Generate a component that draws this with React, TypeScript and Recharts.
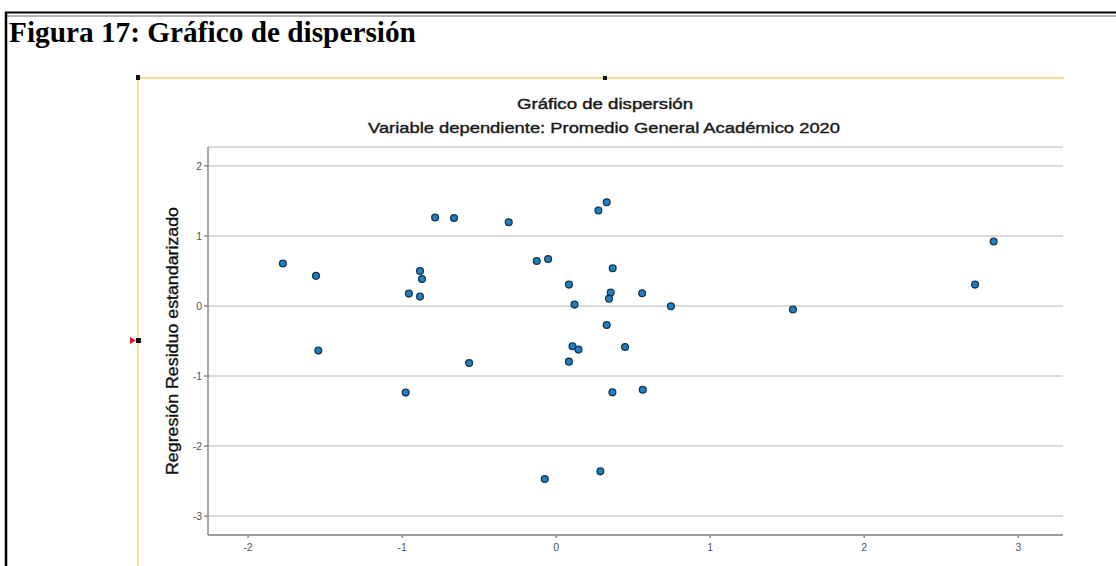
import React from 'react'
import { ScatterChart, Scatter, XAxis, YAxis, CartesianGrid } from 'recharts'

// valor pronosticado tipificado (x) vs residuo estandarizado (y)
const xValues = [
  -1.774, -1.559, -1.544, -0.977, -0.956, -0.884, -0.884, -0.871, -0.786, -0.663,
  -0.565, -0.308, -0.126, -0.052, -0.074, 0.083, 0.119, 0.106, 0.145, 0.083,
  0.274, 0.328, 0.367, 0.354, 0.343, 0.328, 0.287, 0.365, 0.447, 0.558,
  0.562, 0.745, 1.537, 2.719, 2.84,
]
const yValues = [
  0.606, 0.43, -0.637, -1.237, 0.177, 0.134, 0.5, 0.386, 1.263, 1.257,
  -0.814, 1.196, 0.643, 0.671, -2.471, 0.305, 0.02, -0.576, -0.623, -0.795,
  1.363, 1.481, 0.539, 0.191, 0.105, -0.271, -2.361, -1.233, -0.585, 0.181,
  -1.195, -0.004, -0.051, 0.305, 0.92,
]
const xTicks = [-2, -1, 0, 1, 2, 3]
const yTicks = [-3, -2, -1, 0, 1, 2]

const points = xValues.map((x, i) => ({ x, y: yValues[i] }))

const sans = '"Liberation Sans", Arial, sans-serif'

const Dot = (props: any) => {
  const { cx, cy } = props
  if (cx == null || cy == null) return null
  return <circle cx={cx} cy={cy} r={3.4} fill="#1f7fc4" stroke="#143650" strokeWidth={1.3} />
}

export default function App() {
  return (
    <div style={{ position: 'absolute', left: 0, top: 0, width: 1116, height: 566, background: '#fff', overflow: 'hidden' }}>
      <ScatterChart width={1116} height={566} margin={{ top: 147, right: 53, bottom: 6, left: 148 }}>
        <CartesianGrid vertical={false} stroke="#cfcfcf" strokeWidth={1.5} />
        <XAxis
          type="number"
          dataKey="x"
          domain={[-2.26, 3.29]}
          ticks={xTicks}
          allowDataOverflow
          height={25}
          tickSize={3}
          tickMargin={6}
          stroke="#8a8a8a"
          strokeWidth={1.5}
          tick={{ fontSize: 10.5, fill: '#555', fontFamily: sans }}
        />
        <YAxis
          type="number"
          dataKey="y"
          domain={[-3.27, 2.27]}
          ticks={yTicks}
          allowDataOverflow
          width={60}
          tickSize={4}
          tickMargin={2}
          stroke="#8a8a8a"
          strokeWidth={1.5}
          tick={{ fontSize: 10.5, fill: '#555', fontFamily: sans }}
        />
        <Scatter data={points} shape={<Dot />} isAnimationActive={false} />
      </ScatterChart>

      <svg width={1116} height={566} style={{ position: 'absolute', left: 0, top: 0, pointerEvents: 'none' }}>
        {/* marco de la figura */}
        <line x1={5} y1={12.5} x2={1116} y2={12.5} stroke="#000" strokeWidth={2} />
        <line x1={5} y1={16} x2={1116} y2={16} stroke="#9a9a9a" strokeWidth={1.5} />
        <line x1={6} y1={12} x2={6} y2={566} stroke="#000" strokeWidth={2.5} />
        <text x={9} y={42} fontFamily='"Liberation Serif", "Times New Roman", serif' fontWeight="bold" fontSize={29.3} fill="#000">
          Figura 17: Gráfico de dispersión
        </text>

        {/* panel del gráfico */}
        <line x1={138} y1={78} x2={1064} y2={78} stroke="#f3dc86" strokeWidth={2} />
        <line x1={138} y1={78} x2={138} y2={566} stroke="#f6e39a" strokeWidth={2} />
        <rect x={136} y={75} width={4} height={5} fill="#111" />
        <rect x={603} y={76} width={4} height={4} fill="#111" />
        <rect x={136} y={338} width={5} height={5} fill="#111" />
        <polygon points="130,337 136,340.5 130,344" fill="#e0141a" />

        <text x={605} y={109} textAnchor="middle" fontFamily={sans} fontSize={15.5} fill="#1a1a1a" stroke="#1a1a1a" strokeWidth={0.45} textLength={176} lengthAdjust="spacingAndGlyphs">
          Gráfico de dispersión
        </text>
        <text x={604} y={133} textAnchor="middle" fontFamily={sans} fontSize={15.5} fill="#1a1a1a" stroke="#1a1a1a" strokeWidth={0.4} textLength={472} lengthAdjust="spacingAndGlyphs">
          Variable dependiente: Promedio General Académico 2020
        </text>
        <text
          x={0}
          y={0}
          transform="translate(178,341) rotate(-90)"
          textAnchor="middle"
          fontFamily={sans}
          fontSize={16.5}
          fill="#111"
          stroke="#111"
          strokeWidth={0.35}
          textLength={268}
          lengthAdjust="spacingAndGlyphs"
        >
          Regresión Residuo estandarizado
        </text>
      </svg>
    </div>
  )
}
